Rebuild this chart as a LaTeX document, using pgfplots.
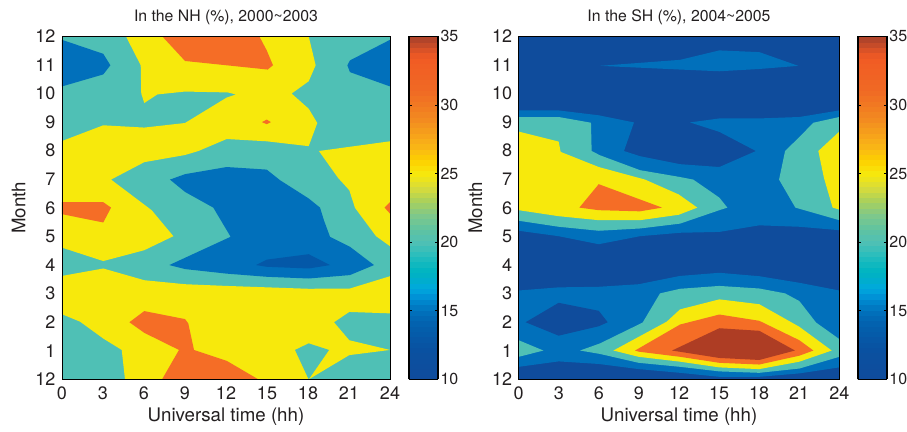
\documentclass[border=0pt]{standalone}
\usepackage{pgfplots}
\usepackage{fontspec}
\setmainfont{TeX Gyre Heros}
\pgfplotsset{compat=1.18}
\definecolor{cTeal}{RGB}{79,192,181}
\definecolor{cYel}{RGB}{247,233,12}
\definecolor{cOra}{RGB}{245,109,38}
\definecolor{cBlu}{RGB}{1,112,187}
\definecolor{cDk}{RGB}{4,88,168}
\definecolor{cNav}{RGB}{15,76,156}
\definecolor{cRed}{RGB}{174,61,36}
\definecolor{txt}{RGB}{35,31,32}
\pgfplotsset{
  colormap={base}{rgb255(10)=(15,76,156); rgb255(12)=(10,80,160); rgb255(14)=(3,96,173); rgb255(15)=(1,112,187); rgb255(16)=(0,144,213); rgb255(16.6)=(0,168,224); rgb255(17.4)=(0,174,200); rgb255(18)=(0,181,192); rgb255(19)=(37,189,189); rgb255(20)=(79,192,181); rgb255(21)=(96,195,160); rgb255(22)=(128,200,138); rgb255(23)=(169,208,92); rgb255(24)=(216,220,58); rgb255(25)=(247,233,12); rgb255(26)=(253,208,0); rgb255(27)=(249,181,23); rgb255(29)=(243,138,32); rgb255(31)=(240,106,36); rgb255(33.6)=(241,90,36); rgb255(34.2)=(208,79,40); rgb255(35)=(168,64,42)},
  colormap={bar64}{samples of colormap=(64 of base)},
  poly/.style={fill=#1,draw=none,mark=none,forget plot,line width=0pt},
  panel/.style={
    scale only axis, anchor=south west, height=343pt,
    xmin=0,xmax=24,ymin=0,ymax=12,
    xtick={0,3,...,24}, ytick={0,1,...,12},
    yticklabels={12,1,2,3,4,5,6,7,8,9,10,11,12},
    major tick length=0pt,
    axis on top, axis line style={line width=.6pt,black},
    /pgf/number format/assume math mode=true,
    tick label style={font=\fontsize{18}{20}\selectfont,text=txt},
    xtick pos=bottom, ytick pos=left,
    xticklabel style={yshift=-4pt}, yticklabel style={xshift=-3pt},
    xlabel={Universal time (hh)}, ylabel={Month},
    label style={font=\fontsize{18.7}{20}\selectfont,text=txt},
    xlabel style={yshift=-1pt}, ylabel style={yshift=3pt},
    title style={font=\fontsize{15.8}{18}\selectfont,text=txt,yshift=2pt},
    colormap name=bar64,
    point meta min=10, point meta max=35,
    colorbar sampled,
    colorbar style={
      samples=65, width=29pt, height=343pt,
      at={(1.058,0)}, anchor=south west,
      ytick={10,15,...,35}, 
      /pgf/number format/assume math mode=true,
      yticklabel style={font=\fontsize{16}{18}\selectfont,text=txt,xshift=-1pt},
      ytick pos=both, yticklabel pos=right, tick align=inside,
      major tick length=3pt, major tick style={draw=black,line width=.8pt},
      axis line style={line width=1.4pt,black},
    },
  },
}
\begin{document}
\begin{tikzpicture}
\useasboundingbox (0pt,0pt) rectangle (907pt,431pt);
\begin{axis}[panel, at={(62pt,51.6pt)}, width=328pt, title={In the NH (\%), 2000\textasciitilde 2003}, colorbar]
\addplot[poly=cTeal] coordinates {(0,0)(24,0)(24,12)(0,12)} --cycle;
% yellow upper
\addplot[poly=cYel] coordinates {(4.68,12)(5.76,10.99)(5.8,10)(6.02,9.67)(6.98,9.97)(9,10.07)(12.12,10.04)(12.73,9.97)(12.05,9.86)(9,8.97)(6.02,8.81)(3.02,8.89)(0,8.34)(0,4.61)(3.02,4.14)(6.02,4.52)(8.15,5.01)(6.56,5.92)(3.59,6.99)(6.02,7.6)(9,7.85)(9.98,7.99)(12.05,8.41)(14.98,8.33)(18.05,8.16)(18.68,8.97)(18.05,9.47)(16.8,10)(18.05,10.43)(18.56,10.99)(18.05,12)} --cycle;
% yellow right
\addplot[poly=cYel] coordinates {(24,8.33)(18.8,7.99)(20.2,7.05)(21.02,6.62)(21.44,6)(22.98,5.01)(24,4.66)} --cycle;
% yellow lower
\addplot[poly=cYel] coordinates {(0,3.62)(3.02,3.88)(6.02,3.47)(9,3.33)(12.05,3.27)(18.05,3.17)(21.07,3.18)(24,3.61)(24,2.31)(21.02,2.36)(19.9,2)(21.02,1.37)(24,1.03)(21.02,0.85)(18.05,0)(4.61,0)(4.37,1.03)(3.02,1.43)(1.32,2.02)(0,2.28)} --cycle;
\addplot[poly=cTeal] coordinates {(17.05,1.03)(18.05,1.26)(19.54,1.03)(18.05,0)} --cycle;
% orange
\addplot[poly=cOra] coordinates {(7.34,12)(9,11.14)(15.05,10.84)(15.44,10.99)(14.98,11.51)(14.44,12)} --cycle;
\addplot[poly=cOra] coordinates {(14.63,9)(14.98,9.09)(15.29,9)(14.98,8.93)} --cycle;
\addplot[poly=cOra] coordinates {(0,6.2)(3.02,6.2)(3.59,6.01)(3.02,5.49)(0,5.78)} --cycle;
\addplot[poly=cOra] coordinates {(24,6.2)(23.6,6.01)(24,5.8)} --cycle;
\addplot[poly=cOra] coordinates {(4.93,2)(6.02,2.39)(9,2.11)(9.24,1.96)(9.66,1.03)(12.05,0.65)(14.37,0)(7.32,0)(8.56,1.03)(6.02,1.63)} --cycle;
% blue
\addplot[poly=cBlu] coordinates {(0,11.88)(3.02,11.39)(3.54,10.99)(3.02,10.67)(0,10.25)} --cycle;
\addplot[poly=cBlu] coordinates {(24,11.88)(21.07,11.16)(20.88,10.99)(21.07,10.75)(24,10.25)} --cycle;
\addplot[poly=cBlu] coordinates {(7.9,6.99)(9,7.18)(12.05,7.43)(14.98,7.34)(15.95,6.97)(18.05,6.33)(18.88,6.01)(19.17,5.56)(19.61,4.99)(21.07,4.64)(22.83,4)(21.07,3.65)(18.05,3.53)(14.98,3.59)(12.05,3.7)(9,3.86)(7.85,4)(12.34,4.99)(11.07,6.01)(9,6.56)} --cycle;
\addplot[poly=cDk] coordinates {(14.2,4)(14.98,4.19)(18.05,4.38)(19.61,4)(18.05,3.88)(14.98,3.94)} --cycle;
\end{axis}
\begin{axis}[panel, at={(518.7pt,51.6pt)}, width=320.6pt, title={In the SH (\%), 2004\textasciitilde 2005}, colorbar]
\addplot[poly=cNav] coordinates {(0,0)(24,0)(24,12)(0,12)} --cycle;
% upper blue band
\addplot[poly=cBlu] coordinates {(0,9.41)(2.99,9.41)(5.99,9.24)(8.63,8.99)(7.88,7.99)(9.08,7.81)(12.08,7.53)(15.02,7.43)(17.76,7.99)(15.02,8.66)(12.82,8.99)(15.02,9.13)(18.01,9.13)(21.01,9.18)(24,9.41)(24,5.22)(21.01,5.34)(18.01,5.39)(15.02,5.16)(12.08,5.13)(9.08,5.01)(5.99,4.73)(2.99,5.01)(0,5.2)} --cycle;
% lower blue band
\addplot[poly=cBlu] coordinates {(0,3.11)(2.99,3.22)(5.99,3.24)(8.98,3.33)(12.08,3.62)(15.02,3.73)(18.01,3.61)(21.01,3.38)(24,3.11)(24,0.42)(21.01,0.21)(18.01,0.09)(15.02,0.09)(12.08,0.23)(8.98,0.36)(5.99,0.54)(2.99,0.63)(0,0.44)} --cycle;
\addplot[poly=cBlu] coordinates {(6.09,10.97)(12.08,11.18)(15.02,11.51)(18.01,11.45)(20.93,10.97)(18.01,10.86)(15.02,10.78)(12.08,10.84)} --cycle;
\addplot[poly=cNav] coordinates {(0.52,2)(2.99,2.68)(5.99,2.4)(6.66,2)(5.99,1.86)(2.99,1.53)} --cycle;
% teal
\addplot[poly=cTeal] coordinates {(0,9.18)(2.99,9.18)(5.41,8.98)(5.46,7.99)(6.09,7.84)(9.08,7.32)(12.08,7.08)(13.07,6.99)(15.02,6.36)(15.62,6.01)(15.02,5.92)(12.08,5.45)(9.08,5.28)(5.99,5.2)(2.99,5.34)(0,5.55)} --cycle;
\addplot[poly=cYel] coordinates {(0,8.67)(2.99,8.32)(3.14,7.96)(5.99,7.43)(9.46,6.99)(11.98,6.47)(13.37,6.01)(11.98,5.76)(9.08,5.57)(5.99,5.57)(2.99,5.71)(0,5.92)} --cycle;
\addplot[poly=cOra] coordinates {(4.54,6.01)(5.99,6.83)(10.73,6.01)(9.08,5.88)(5.99,5.92)} --cycle;
\addplot[poly=cTeal] coordinates {(24,9.18)(22.06,8.98)(21.01,8.48)(19.94,7.99)(19.49,6.99)(20.71,6.01)(24,5.57)} --cycle;
\addplot[poly=cYel] coordinates {(24,8.67)(22.43,7.99)(22.85,7.05)(23.5,6.01)(24,5.94)} --cycle;
\addplot[poly=cTeal] coordinates {(0,1.37)(1.85,1.01)(0,0.79)} --cycle;
\addplot[poly=cTeal] coordinates {(4.59,1.01)(6.09,1.26)(9.28,1.99)(10.58,3.01)(12.08,3.17)(15.02,3.27)(18.01,3.18)(19.94,3.01)(21.01,2.74)(22.26,1.99)(24,1.41)(24,0.79)(21.01,0.38)(18.01,0.23)(15.02,0.28)(12.08,0.44)(8.98,0.58)(6.09,0.89)} --cycle;
\addplot[poly=cYel] coordinates {(7.09,1.01)(11.08,2.02)(12.08,2.45)(15.02,2.8)(18.01,2.63)(21.01,1.84)(23.43,1.01)(21.01,0.62)(18.01,0.36)(15.02,0.42)(12.08,0.62)(8.98,0.79)} --cycle;
\addplot[poly=cOra] coordinates {(8.71,1.01)(12.08,1.92)(15.02,2.27)(18.01,2.05)(21.01,1.37)(22.06,1.01)(21.01,0.83)(18.01,0.52)(15.02,0.58)(12.08,0.79)(8.98,0.97)} --cycle;
\addplot[poly=cRed] coordinates {(11.48,1.01)(15.02,1.79)(18.01,1.7)(20.68,1.01)(18.01,0.68)(15.02,0.75)} --cycle;
\end{axis}
\end{tikzpicture}
\end{document}
